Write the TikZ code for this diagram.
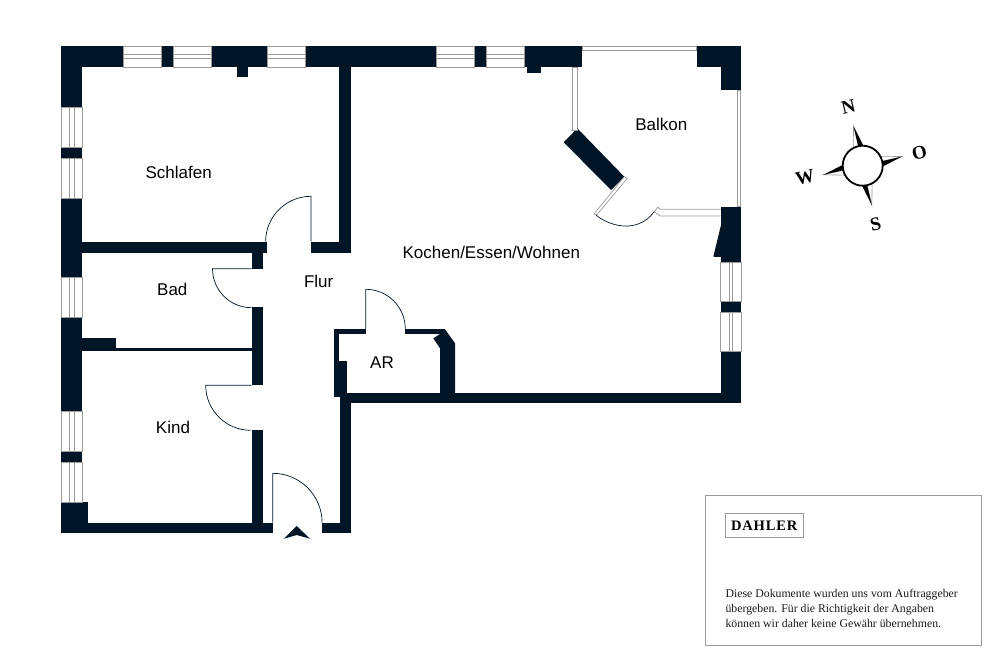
\documentclass[tikz,border=0pt]{standalone}
\usepackage{fontspec}
\setmainfont{Liberation Sans}
\newfontfamily\notefont{Liberation Serif}
\newfontfamily\logofont[LetterSpace=6]{Liberation Serif}
\definecolor{wallc}{HTML}{021526}
\definecolor{railc}{HTML}{9A9A9A}
\begin{document}
\begin{tikzpicture}
		[x=1pt,y=-1pt,wall/.style={fill=wallc},window/.style={draw=railc,fill=white,line width=0.8pt},
		mull/.style={draw=railc,line width=0.8pt},door/.style={draw=wallc,line width=0.7pt},
		room/.style={font=\fontsize{17}{20}\selectfont,text=black,inner sep=0pt},
		card/.style={font=\bfseries\notefont\fontsize{19}{20}\selectfont,text=black,inner sep=0pt},
		note/.style={font=\notefont\fontsize{11.8}{15}\selectfont,text=black!90,inner sep=0pt,anchor=base west}]
		\useasboundingbox (0,0) rectangle (1000,667);
		
		\foreach \xa/\ya/\xb/\yb in {61/46/582/67,61/46/82/533,696.5/46/741/67,721/46/741/90,721/206.7/741/403,
			339.3/67/351/253.3,82/241.7/267/253.3,310.7/241.7/351/253.3,236.7/67/248.3/76.7,526.7/67/540.7/73.3,
			251.7/253.3/263/268.7,251.7/307.3/263/385.3,251.7/430/263/533,82/338.3/116/351,116/347.7/252/351,
			61/522.7/272.7/533.3,322/522.7/351.3/533.3,340/396.7/351.3/533.3,334/329.3/365.7/334.3,334/329.3/339/361,
			334/361/346.7/396.7,340/393.3/741/403.3,405/329.3/445/334.3,61/502/88.3/522.7}
		\fill[wall] (\xa,\ya) rectangle (\xb,\yb);
		\fill[wall] (445,329.3) -- (455,343.3) -- (455,394) -- (440,394) -- (440,348.3) -- (433.3,338.3) -- (440,334) -- cycle;
		\fill[wall] (721,225) -- (713.3,256.7) -- (721,257) -- cycle;
		\fill[wall] (577.3,128.3) -- (563.7,142.3) -- (611,190) -- (624.3,176.7) -- cycle;
		
		\foreach \xa/\xb in {123/161,173/211.5,267.3/305,436/474,486/524}{
			\draw[window] (\xa,46) rectangle (\xb,67);
			\draw[mull] (\xa,54) -- (\xb,54) (\xa,58.3) -- (\xb,58.3);
		}
		\foreach \ya/\yb in {107.7/147.3,158.7/198.7,277.7/317.3,411.3/451,462.7/502}{
			\draw[window] (61,\ya) rectangle (82,\yb);
			\draw[mull] (69,\ya) -- (69,\yb) (74.3,\ya) -- (74.3,\yb);
		}
		\foreach \ya/\yb in {262.7/301.7,312.3/351.7}{
			\draw[window] (720.7,\ya) rectangle (741,\yb);
			\draw[mull] (729,\ya) -- (729,\yb) (732.7,\ya) -- (732.7,\yb);
		}
		
		\draw[window] (582,46.4) rectangle (696.5,50.4);
		\draw[window] (571.9,67) rectangle (577.3,130);
		\draw[window] (736.9,90) rectangle (740.6,206.7);
		\draw[window] (720.7,209.3) -- (660.7,209.3) -- (657.7,207.3) -- (654.3,211.7) -- (660,216) -- (720.7,216);
		\draw[window,line width=0.7pt] (624.3,176.7) -- (627.3,178.3) -- (596.7,215) -- (594,214) -- cycle;
		
		\draw[door] (251.7,268.7) -- (212.5,268.7) arc[start angle=180,end angle=270,radius=39pt];
		\draw[door] (251.7,385.3) -- (205.7,385.3) arc[start angle=180,end angle=270,radius=45pt];
		\draw[door] (272.7,522.7) -- (272.7,473.3) arc[start angle=90,end angle=0,radius=49.4pt];
		\draw[door] (311,241.7) -- (311,196.3) arc[start angle=90,end angle=180,radius=45.4pt];
		\draw[door] (365.7,329.3) -- (365.7,289.3) arc[start angle=90,end angle=0,radius=39.6pt];
		\draw[door] (596,215) .. controls (606,224) and (636,236) .. (654.3,211.7);
		\fill[wallc] (296.7,526) -- (284,538.7) -- (296.7,535) -- (310,538.7) -- cycle;
		
		\node[room] (schlafen) at (178.7,172.3) {Schlafen};
		\node[room] (bad) at (172.3,289.5) {Bad};
		\node[room] (flur) at (318.7,281.5) {Flur};
		\node[room] (kind) at (173,427.5) {Kind};
		\node[room] (ar) at (382,362.5) {AR};
		\node[room] (wohnen) at (491.3,252) {Kochen/Essen/Wohnen};
		\node[room] (balkon) at (661.3,124.5) {Balkon};
		
		\begin{scope}[shift={(862.7,165.7)},rotate=13]
		\foreach \ang in {0,90,180,270}{
			\begin{scope}[rotate=\ang]
			\draw[draw=railc,fill=white,line width=0.6pt] (0,-40.7) -- (-5.5,-18) -- (0,-18) -- cycle;
			\fill[black] (0,-40.7) -- (5.5,-18) -- (0,-18) -- cycle;
			\end{scope}
		}
		\draw[black,fill=white,line width=1.8pt] (0,0) circle[radius=20pt];
		\end{scope}
		\node[card,rotate=13] (north) at (848.3,106.7) {N};
		\node[card,rotate=13] (east) at (919.5,152.7) {O};
		\node[card,rotate=13] (south) at (875.7,224.5) {S};
		\node[card,rotate=13] (west) at (805,177.5) {W};
		
		\node[draw=railc,line width=0.9pt,minimum width=275.6pt,minimum height=150pt,inner sep=0pt] (legend) at (843.5,570.7) {};
		\node[draw=railc,line width=0.7pt,minimum width=78.3pt,minimum height=23.6pt,inner sep=0pt,
			font=\bfseries\logofont\fontsize{14.5}{16}\selectfont,text=black] (logo) at (764.2,525.5) {DAHLER};
		\node[note] (line1) at (725.3,597) {Diese Dokumente wurden uns vom Auftraggeber};
		\node[note] (line2) at (725.3,612) {übergeben. Für die Richtigkeit der Angaben};
		\node[note] (line3) at (725.3,627) {können wir daher keine Gewähr übernehmen.};
		\end{tikzpicture}
\end{document}
